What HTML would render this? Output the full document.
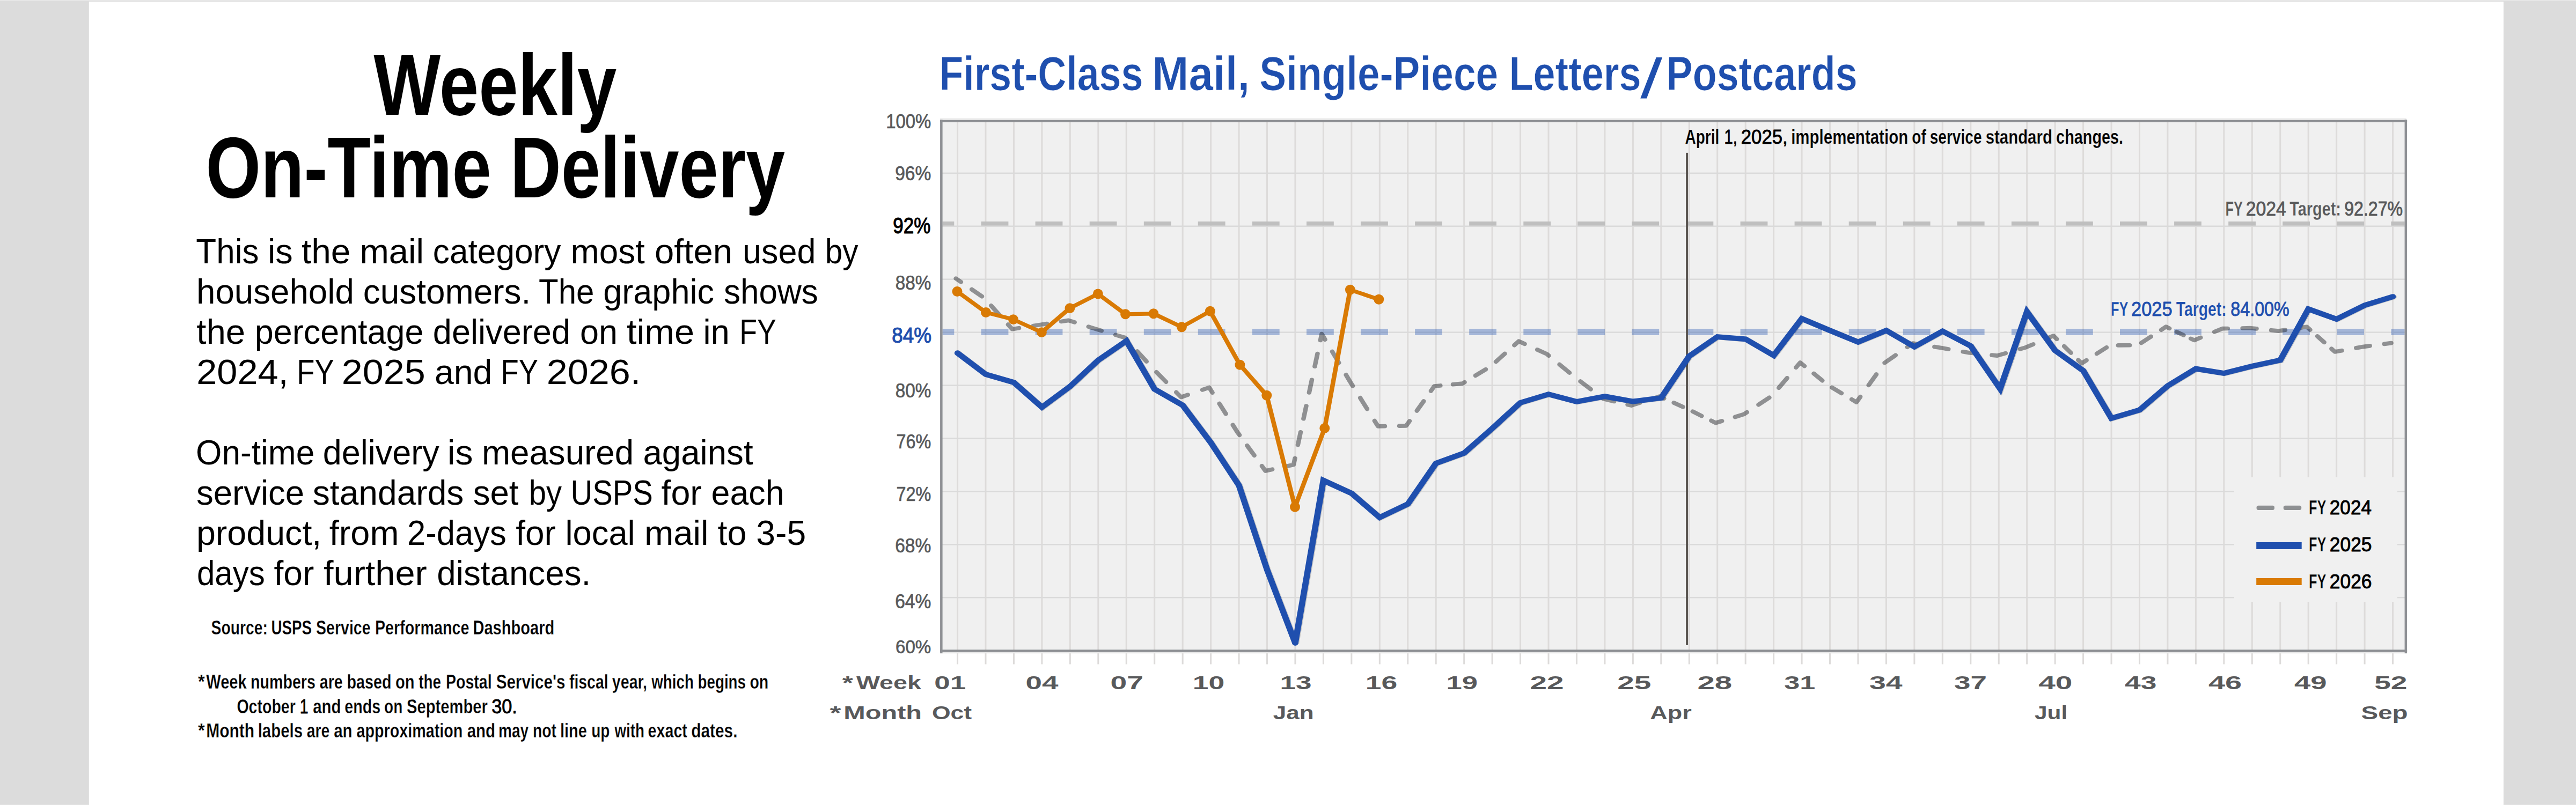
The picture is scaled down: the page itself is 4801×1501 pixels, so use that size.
<!DOCTYPE html>
<html lang="en"><head><meta charset="utf-8"><title>Weekly On-Time Delivery</title>
<style>
html,body{margin:0;padding:0;background:#fff;}
body{width:4801px;height:1501px;overflow:hidden;position:relative;}
svg{position:absolute;left:0;top:0;display:block;font-family:"Liberation Sans",Arial,sans-serif;}
text{white-space:pre;}
</style></head><body>
<svg width="4801" height="1501" viewBox="0 0 4801 1501">
<rect x="0" y="0" width="4801" height="1501" fill="#fff"/>
<rect x="0" y="0" width="165.8" height="1501" fill="#DCDCDC"/>
<rect x="4665.9" y="0" width="135.1" height="1501" fill="#DCDCDC"/>
<rect x="0" y="1500" width="165.8" height="1" fill="#E3E3E3"/><rect x="4665.9" y="1500" width="135.1" height="1" fill="#E3E3E3"/>
<rect x="0" y="0" width="4801" height="1" fill="#EEEEEE"/>
<rect x="0" y="1" width="4801" height="2" fill="#DCDCDC"/>
<g>
<rect x="1754.35" y="225.95" width="2729.5000000000005" height="987.6499999999999" fill="#F0F0F0"/>
<rect x="1783.05" y="225.95" width="3.0" height="1012.6" fill="#DDDBDA"/>
<rect x="1835.50" y="225.95" width="3.0" height="1012.6" fill="#DDDBDA"/>
<rect x="1887.95" y="225.95" width="3.0" height="1012.6" fill="#DDDBDA"/>
<rect x="1940.40" y="225.95" width="3.0" height="1012.6" fill="#DDDBDA"/>
<rect x="1992.85" y="225.95" width="3.0" height="1012.6" fill="#DDDBDA"/>
<rect x="2045.30" y="225.95" width="3.0" height="1012.6" fill="#DDDBDA"/>
<rect x="2097.76" y="225.95" width="3.0" height="1012.6" fill="#DDDBDA"/>
<rect x="2150.21" y="225.95" width="3.0" height="1012.6" fill="#DDDBDA"/>
<rect x="2202.66" y="225.95" width="3.0" height="1012.6" fill="#DDDBDA"/>
<rect x="2255.11" y="225.95" width="3.0" height="1012.6" fill="#DDDBDA"/>
<rect x="2307.56" y="225.95" width="3.0" height="1012.6" fill="#DDDBDA"/>
<rect x="2360.01" y="225.95" width="3.0" height="1012.6" fill="#DDDBDA"/>
<rect x="2412.46" y="225.95" width="3.0" height="1012.6" fill="#DDDBDA"/>
<rect x="2464.91" y="225.95" width="3.0" height="1012.6" fill="#DDDBDA"/>
<rect x="2517.36" y="225.95" width="3.0" height="1012.6" fill="#DDDBDA"/>
<rect x="2569.81" y="225.95" width="3.0" height="1012.6" fill="#DDDBDA"/>
<rect x="2622.27" y="225.95" width="3.0" height="1012.6" fill="#DDDBDA"/>
<rect x="2674.72" y="225.95" width="3.0" height="1012.6" fill="#DDDBDA"/>
<rect x="2727.17" y="225.95" width="3.0" height="1012.6" fill="#DDDBDA"/>
<rect x="2779.62" y="225.95" width="3.0" height="1012.6" fill="#DDDBDA"/>
<rect x="2832.07" y="225.95" width="3.0" height="1012.6" fill="#DDDBDA"/>
<rect x="2884.52" y="225.95" width="3.0" height="1012.6" fill="#DDDBDA"/>
<rect x="2936.97" y="225.95" width="3.0" height="1012.6" fill="#DDDBDA"/>
<rect x="2989.42" y="225.95" width="3.0" height="1012.6" fill="#DDDBDA"/>
<rect x="3041.87" y="225.95" width="3.0" height="1012.6" fill="#DDDBDA"/>
<rect x="3094.32" y="225.95" width="3.0" height="1012.6" fill="#DDDBDA"/>
<rect x="3146.78" y="225.95" width="3.0" height="1012.6" fill="#DDDBDA"/>
<rect x="3199.23" y="225.95" width="3.0" height="1012.6" fill="#DDDBDA"/>
<rect x="3251.68" y="225.95" width="3.0" height="1012.6" fill="#DDDBDA"/>
<rect x="3304.13" y="225.95" width="3.0" height="1012.6" fill="#DDDBDA"/>
<rect x="3356.58" y="225.95" width="3.0" height="1012.6" fill="#DDDBDA"/>
<rect x="3409.03" y="225.95" width="3.0" height="1012.6" fill="#DDDBDA"/>
<rect x="3461.48" y="225.95" width="3.0" height="1012.6" fill="#DDDBDA"/>
<rect x="3513.93" y="225.95" width="3.0" height="1012.6" fill="#DDDBDA"/>
<rect x="3566.38" y="225.95" width="3.0" height="1012.6" fill="#DDDBDA"/>
<rect x="3618.83" y="225.95" width="3.0" height="1012.6" fill="#DDDBDA"/>
<rect x="3671.29" y="225.95" width="3.0" height="1012.6" fill="#DDDBDA"/>
<rect x="3723.74" y="225.95" width="3.0" height="1012.6" fill="#DDDBDA"/>
<rect x="3776.19" y="225.95" width="3.0" height="1012.6" fill="#DDDBDA"/>
<rect x="3828.64" y="225.95" width="3.0" height="1012.6" fill="#DDDBDA"/>
<rect x="3881.09" y="225.95" width="3.0" height="1012.6" fill="#DDDBDA"/>
<rect x="3933.54" y="225.95" width="3.0" height="1012.6" fill="#DDDBDA"/>
<rect x="3985.99" y="225.95" width="3.0" height="1012.6" fill="#DDDBDA"/>
<rect x="4038.44" y="225.95" width="3.0" height="1012.6" fill="#DDDBDA"/>
<rect x="4090.89" y="225.95" width="3.0" height="1012.6" fill="#DDDBDA"/>
<rect x="4143.34" y="225.95" width="3.0" height="1012.6" fill="#DDDBDA"/>
<rect x="4195.80" y="225.95" width="3.0" height="1012.6" fill="#DDDBDA"/>
<rect x="4248.25" y="225.95" width="3.0" height="1012.6" fill="#DDDBDA"/>
<rect x="4300.70" y="225.95" width="3.0" height="1012.6" fill="#DDDBDA"/>
<rect x="4353.15" y="225.95" width="3.0" height="1012.6" fill="#DDDBDA"/>
<rect x="4405.60" y="225.95" width="3.0" height="1012.6" fill="#DDDBDA"/>
<rect x="4458.05" y="225.95" width="3.0" height="1012.6" fill="#DDDBDA"/>
<rect x="1754.35" y="1112.94" width="2729.5000000000005" height="2.5" fill="#DADADA"/>
<rect x="1754.35" y="1014.03" width="2729.5000000000005" height="2.5" fill="#DADADA"/>
<rect x="1754.35" y="915.11" width="2729.5000000000005" height="2.5" fill="#DADADA"/>
<rect x="1754.35" y="816.20" width="2729.5000000000005" height="2.5" fill="#DADADA"/>
<rect x="1754.35" y="717.29" width="2729.5000000000005" height="2.5" fill="#DADADA"/>
<rect x="1754.35" y="618.38" width="2729.5000000000005" height="2.5" fill="#DADADA"/>
<rect x="1754.35" y="519.47" width="2729.5000000000005" height="2.5" fill="#DADADA"/>
<rect x="1754.35" y="420.55" width="2729.5000000000005" height="2.5" fill="#DADADA"/>
<rect x="1754.35" y="321.64" width="2729.5000000000005" height="2.5" fill="#DADADA"/>
<rect x="4164" y="889.8" width="304" height="232.5" fill="#F0F0F0"/>
<rect x="1756.5" y="413.0" width="21.8" height="7.7" fill="#BFBFBF" fill-opacity="1"/>
<rect x="1828.6" y="413.0" width="50.8" height="7.7" fill="#BFBFBF" fill-opacity="1"/>
<rect x="1929.6" y="413.0" width="50.8" height="7.7" fill="#BFBFBF" fill-opacity="1"/>
<rect x="2030.7" y="413.0" width="50.8" height="7.7" fill="#BFBFBF" fill-opacity="1"/>
<rect x="2131.8" y="413.0" width="50.8" height="7.7" fill="#BFBFBF" fill-opacity="1"/>
<rect x="2232.8" y="413.0" width="50.8" height="7.7" fill="#BFBFBF" fill-opacity="1"/>
<rect x="2333.9" y="413.0" width="50.8" height="7.7" fill="#BFBFBF" fill-opacity="1"/>
<rect x="2435.0" y="413.0" width="50.8" height="7.7" fill="#BFBFBF" fill-opacity="1"/>
<rect x="2536.1" y="413.0" width="50.8" height="7.7" fill="#BFBFBF" fill-opacity="1"/>
<rect x="2637.1" y="413.0" width="50.8" height="7.7" fill="#BFBFBF" fill-opacity="1"/>
<rect x="2738.2" y="413.0" width="50.8" height="7.7" fill="#BFBFBF" fill-opacity="1"/>
<rect x="2839.3" y="413.0" width="50.8" height="7.7" fill="#BFBFBF" fill-opacity="1"/>
<rect x="2940.3" y="413.0" width="50.8" height="7.7" fill="#BFBFBF" fill-opacity="1"/>
<rect x="3041.4" y="413.0" width="50.8" height="7.7" fill="#BFBFBF" fill-opacity="1"/>
<rect x="3142.5" y="413.0" width="50.8" height="7.7" fill="#BFBFBF" fill-opacity="1"/>
<rect x="3243.6" y="413.0" width="50.8" height="7.7" fill="#BFBFBF" fill-opacity="1"/>
<rect x="3344.6" y="413.0" width="50.8" height="7.7" fill="#BFBFBF" fill-opacity="1"/>
<rect x="3445.7" y="413.0" width="50.8" height="7.7" fill="#BFBFBF" fill-opacity="1"/>
<rect x="3546.8" y="413.0" width="50.8" height="7.7" fill="#BFBFBF" fill-opacity="1"/>
<rect x="3647.8" y="413.0" width="50.8" height="7.7" fill="#BFBFBF" fill-opacity="1"/>
<rect x="3748.9" y="413.0" width="50.8" height="7.7" fill="#BFBFBF" fill-opacity="1"/>
<rect x="3850.0" y="413.0" width="50.8" height="7.7" fill="#BFBFBF" fill-opacity="1"/>
<rect x="3951.0" y="413.0" width="50.8" height="7.7" fill="#BFBFBF" fill-opacity="1"/>
<rect x="4052.1" y="413.0" width="50.8" height="7.7" fill="#BFBFBF" fill-opacity="1"/>
<rect x="4153.2" y="413.0" width="50.8" height="7.7" fill="#BFBFBF" fill-opacity="1"/>
<rect x="4254.2" y="413.0" width="50.8" height="7.7" fill="#BFBFBF" fill-opacity="1"/>
<rect x="4355.3" y="413.0" width="50.8" height="7.7" fill="#BFBFBF" fill-opacity="1"/>
<rect x="4456.4" y="413.0" width="25.3" height="7.7" fill="#BFBFBF" fill-opacity="1"/>
<rect x="1756.5" y="613.0" width="21.8" height="12.0" fill="#1F4FAE" fill-opacity="0.36"/>
<rect x="1828.6" y="613.0" width="50.8" height="12.0" fill="#1F4FAE" fill-opacity="0.36"/>
<rect x="1929.6" y="613.0" width="50.8" height="12.0" fill="#1F4FAE" fill-opacity="0.36"/>
<rect x="2030.7" y="613.0" width="50.8" height="12.0" fill="#1F4FAE" fill-opacity="0.36"/>
<rect x="2131.8" y="613.0" width="50.8" height="12.0" fill="#1F4FAE" fill-opacity="0.36"/>
<rect x="2232.8" y="613.0" width="50.8" height="12.0" fill="#1F4FAE" fill-opacity="0.36"/>
<rect x="2333.9" y="613.0" width="50.8" height="12.0" fill="#1F4FAE" fill-opacity="0.36"/>
<rect x="2435.0" y="613.0" width="50.8" height="12.0" fill="#1F4FAE" fill-opacity="0.36"/>
<rect x="2536.1" y="613.0" width="50.8" height="12.0" fill="#1F4FAE" fill-opacity="0.36"/>
<rect x="2637.1" y="613.0" width="50.8" height="12.0" fill="#1F4FAE" fill-opacity="0.36"/>
<rect x="2738.2" y="613.0" width="50.8" height="12.0" fill="#1F4FAE" fill-opacity="0.36"/>
<rect x="2839.3" y="613.0" width="50.8" height="12.0" fill="#1F4FAE" fill-opacity="0.36"/>
<rect x="2940.3" y="613.0" width="50.8" height="12.0" fill="#1F4FAE" fill-opacity="0.36"/>
<rect x="3041.4" y="613.0" width="50.8" height="12.0" fill="#1F4FAE" fill-opacity="0.36"/>
<rect x="3142.5" y="613.0" width="50.8" height="12.0" fill="#1F4FAE" fill-opacity="0.36"/>
<rect x="3243.6" y="613.0" width="50.8" height="12.0" fill="#1F4FAE" fill-opacity="0.36"/>
<rect x="3344.6" y="613.0" width="50.8" height="12.0" fill="#1F4FAE" fill-opacity="0.36"/>
<rect x="3445.7" y="613.0" width="50.8" height="12.0" fill="#1F4FAE" fill-opacity="0.36"/>
<rect x="3546.8" y="613.0" width="50.8" height="12.0" fill="#1F4FAE" fill-opacity="0.36"/>
<rect x="3647.8" y="613.0" width="50.8" height="12.0" fill="#1F4FAE" fill-opacity="0.36"/>
<rect x="3748.9" y="613.0" width="50.8" height="12.0" fill="#1F4FAE" fill-opacity="0.36"/>
<rect x="3850.0" y="613.0" width="50.8" height="12.0" fill="#1F4FAE" fill-opacity="0.36"/>
<rect x="3951.0" y="613.0" width="50.8" height="12.0" fill="#1F4FAE" fill-opacity="0.36"/>
<rect x="4052.1" y="613.0" width="50.8" height="12.0" fill="#1F4FAE" fill-opacity="0.36"/>
<rect x="4153.2" y="613.0" width="50.8" height="12.0" fill="#1F4FAE" fill-opacity="0.36"/>
<rect x="4254.2" y="613.0" width="50.8" height="12.0" fill="#1F4FAE" fill-opacity="0.36"/>
<rect x="4355.3" y="613.0" width="50.8" height="12.0" fill="#1F4FAE" fill-opacity="0.36"/>
<rect x="4456.4" y="613.0" width="25.3" height="12.0" fill="#1F4FAE" fill-opacity="0.36"/>
<rect x="3142.0" y="284.9" width="4.1" height="918" fill="#5B5652"/>
<g transform="scale(1.1 1)" fill="none">
<path d="M1619.59 519.23L1628.18 525.73M1707.99 605.17L1714.96 613.69L1726.41 611.73M1992.93 731.45L2001.05 740.55L2012.59 736.18M2037.20 726.86L2048.74 722.50L2054.25 732.10M2138.05 868.84L2144.10 878.04L2155.64 875.22M2180.24 869.23L2191.78 866.41L2194.09 854.61M2237.16 634.40L2239.47 622.60L2245.12 633.10M2328.94 784.60L2334.83 794.95L2346.37 794.71M2370.98 794.20L2382.51 793.96L2388.28 785.01M2424.43 728.97L2430.20 720.02L2440.30 718.98M2565.69 643.64L2573.25 636.20L2583.27 641.24M2801.17 742.82L2811.66 739.06L2819.42 742.89M2899.40 784.37L2907.02 788.52L2917.48 785.00M3043.01 685.20L3050.07 676.01L3057.40 682.54M3137.34 744.61L3145.44 749.94L3152.00 739.83M3231.52 647.23L3240.80 640.15L3252.56 642.22M3468.24 631.12L3479.22 626.06L3484.99 632.28M3521.13 671.27L3526.90 677.49L3535.13 671.73M3661.79 615.12L3669.95 609.24L3675.72 612.29M3711.86 631.41L3717.63 634.46L3728.55 629.48M3896.67 611.18L3908.36 609.24L3914.13 614.90M3950.27 650.32L3956.04 655.98L3967.54 653.71M4039.83 641.34L4051.41 639.66M1646.48 539.60L1663.66 552.60M1679.20 569.93L1693.13 586.98M1750.82 607.56L1762.64 605.53L1773.71 603.64M1798.13 599.46L1810.32 597.37L1820.65 600.96M1844.21 609.15L1858.00 613.94L1866.35 616.67M1890.03 624.40L1905.69 629.52L1910.29 635.08M1926.92 655.18L1942.52 674.03M1959.39 693.88L1975.62 712.06M2066.00 752.57L2077.02 771.78M2088.77 792.25L2096.42 805.58L2100.12 811.21M2113.03 830.83L2125.14 849.22M2199.01 829.45L2203.63 805.85M2208.55 780.69L2213.16 757.09M2218.09 731.92L2222.70 708.32M2227.62 683.16L2232.24 659.56M2257.19 655.49L2268.50 676.50M2280.56 698.89L2287.15 711.12L2292.07 719.77M2304.62 741.84L2316.39 762.53M2400.59 765.94L2412.13 748.05M2461.84 716.74L2477.88 715.08L2481.45 712.69M2499.94 700.32L2517.28 688.72M2534.46 674.42L2549.57 659.52M2604.66 652.00L2620.93 660.18L2624.14 663.10M2642.28 679.56L2659.30 695.00M2677.70 711.09L2695.23 725.82M2713.92 741.52L2716.29 743.52L2734.83 748.42M2757.70 754.47L2763.98 756.13L2778.81 750.82M2835.98 751.04L2851.50 758.69M2867.90 767.22L2883.15 775.52M2939.77 777.48L2954.71 772.45L2959.94 768.68M2979.44 754.62L2997.73 741.43M3013.85 723.16L3027.96 704.79M3073.03 696.48L3087.68 709.56M3103.89 722.58L3120.08 733.24M3166.00 718.27L3179.14 698.04M3193.14 676.48L3211.72 662.33M3277.62 646.64L3288.49 648.56L3301.10 650.98M3326.11 655.78L3336.17 657.71L3349.69 659.25M3374.94 662.13L3383.85 663.15L3398.12 658.64M3422.51 650.92L3431.53 648.07L3444.83 641.93M3497.29 645.55L3508.83 658.00M3552.67 659.45L3569.13 647.93M3588.91 643.96L3608.42 643.76M3628.08 639.42L3644.39 627.66M3688.02 618.80L3699.56 624.91M3751.85 618.85L3765.31 612.70L3774.38 612.52M3799.59 611.99L3813.00 611.72L3823.19 612.88M3848.27 615.74L3860.68 617.16L3871.73 615.32M3926.43 626.96L3937.97 638.27M3992.06 648.88L4003.73 646.58L4015.14 644.92" stroke="#101317" stroke-opacity="0.43" stroke-width="7.7" stroke-linecap="round" stroke-linejoin="round"/>
</g>
<g transform="scale(1.17 1)" fill="none">
<polyline points="1526.54,658.7 1571.37,698.5 1616.20,713.6 1661.03,759.8 1705.86,721.0 1750.69,672.1 1795.52,636.2 1840.35,726.0 1885.18,756.1 1930.01,825.9 1974.84,905.5 2019.67,1062.8 2064.50,1199.5 2109.33,896.3 2154.16,920.3 2198.99,965.3 2243.82,940.4 2288.65,864.4 2333.48,845.4 2378.31,799.4 2423.14,751.4 2467.97,735.6 2512.80,749.5 2557.63,739.6 2602.46,749.0 2647.29,742.5 2692.12,664.6 2736.95,628.5 2781.78,632.7 2826.61,663.2 2871.44,594.7 2916.27,616.7 2961.10,638.2 3005.93,616.7 3050.75,647.1 3095.58,618.1 3140.41,645.6 3187.38,725.5 3230.07,581.8 3274.90,654.0 3319.73,691.6 3364.56,780.4 3409.39,765.0 3454.22,720.0 3499.05,688.1 3543.88,696.5 3588.71,683.2 3633.54,672.1 3678.37,576.6 3723.20,595.6 3768.03,569.7 3812.86,553.6" stroke="#000" stroke-opacity="0.17" stroke-width="9.9" stroke-linecap="round" stroke-linejoin="miter" stroke-miterlimit="3"/>
<polyline points="1525.26,658.2 1570.09,698.0 1614.92,713.1 1659.75,759.3 1704.58,720.5 1749.41,671.6 1794.24,635.7 1839.07,725.5 1883.90,755.6 1928.73,825.4 1973.56,905.0 2018.39,1062.3 2063.22,1199.0 2108.05,895.8 2152.87,919.8 2197.70,964.8 2242.53,939.9 2287.36,863.9 2332.19,844.9 2377.02,798.9 2421.85,750.9 2466.68,735.1 2511.51,749.0 2556.34,739.1 2601.17,748.5 2646.00,742.0 2690.83,664.1 2735.66,628.0 2780.49,632.2 2825.32,662.7 2870.15,594.2 2914.98,616.2 2959.81,637.7 3004.64,616.2 3049.47,646.6 3094.30,617.6 3139.13,645.1 3186.10,725.0 3228.79,581.3 3273.62,653.5 3318.45,691.1 3363.28,779.9 3408.11,764.5 3452.94,719.5 3497.77,687.6 3542.60,696.0 3587.43,682.7 3632.26,671.6 3677.09,576.1 3721.92,595.1 3766.75,569.2 3811.58,553.1" stroke="#1F4FAE" stroke-width="9.9" stroke-linecap="round" stroke-linejoin="miter" stroke-miterlimit="3"/>
<circle cx="2063.22" cy="1199.0" r="4.95" fill="#1F4FAE"/>
<polyline points="1524.83,543.5 1570.51,582.5 1614.06,595.6 1659.32,619.6 1704.15,574.6 1748.98,547.9 1792.70,585.8 1837.53,584.8 1882.36,609.7 1927.70,580.3 1975.09,680.2 2017.79,737.3 2062.79,945.3 2110.10,798.4 2150.74,540.3 2196.42,558.3" stroke="#D97A04" stroke-width="7.3" stroke-linecap="round" stroke-linejoin="round"/>
</g>
<circle cx="1784.0" cy="543.5" r="9.45" fill="#D97A04"/>
<circle cx="1837.5" cy="582.5" r="9.45" fill="#D97A04"/>
<circle cx="1888.5" cy="595.6" r="9.45" fill="#D97A04"/>
<circle cx="1941.4" cy="619.6" r="9.45" fill="#D97A04"/>
<circle cx="1993.9" cy="574.6" r="9.45" fill="#D97A04"/>
<circle cx="2046.3" cy="547.9" r="9.45" fill="#D97A04"/>
<circle cx="2097.5" cy="585.8" r="9.45" fill="#D97A04"/>
<circle cx="2149.9" cy="584.8" r="9.45" fill="#D97A04"/>
<circle cx="2202.4" cy="609.7" r="9.45" fill="#D97A04"/>
<circle cx="2255.4" cy="580.3" r="9.45" fill="#D97A04"/>
<circle cx="2310.9" cy="680.2" r="9.45" fill="#D97A04"/>
<circle cx="2360.8" cy="737.3" r="9.45" fill="#D97A04"/>
<circle cx="2413.5" cy="945.3" r="9.45" fill="#D97A04"/>
<circle cx="2468.8" cy="798.4" r="9.45" fill="#D97A04"/>
<circle cx="2516.4" cy="540.3" r="9.45" fill="#D97A04"/>
<circle cx="2569.8" cy="558.3" r="9.45" fill="#D97A04"/>
<rect x="1752.1" y="220.4" width="2732.5" height="3.5" fill="#EBEBEB"/>
<rect x="1756.6" y="1215.7" width="2725" height="2.6" fill="#E6E6E6"/>
<rect x="1752.1" y="223.85" width="2734" height="4.15" fill="#8E9094"/>
<rect x="1752.1" y="1211.4" width="2734" height="4.4" fill="#8E9094"/>
<rect x="1752.1" y="223.3" width="4.5" height="994.9" fill="#8E9094"/>
<rect x="4481.6" y="223.1" width="4.5" height="995.1" fill="#8E9094"/>
<rect x="4205.6" y="942.8" width="33.4" height="8.2" rx="3.4" fill="#8E9092"/><rect x="4255.8" y="942.8" width="33.4" height="8.2" rx="3.4" fill="#8E9092"/>
<rect x="4205.2" y="1011" width="84.5" height="13" fill="#1F4FAE"/>
<rect x="4205.2" y="1078" width="84.5" height="13" fill="#D97A04"/>
</g>
<g>
<text transform="translate(696.50 214.00) scale(0.8221 1.0000)" font-size="160.61" font-weight="700" fill="#000">Weekly</text>
<text transform="translate(383.38 367.50) scale(0.8210 1.0000)" font-size="160.61" font-weight="700" fill="#000">On-Time</text>
<text transform="translate(950.77 367.50) scale(0.8198 1.0000)" font-size="160.61" font-weight="700" fill="#000">Delivery</text>
<text transform="translate(365.33 491.00) scale(0.9627 1.0000)" font-size="64.39" fill="#000">This</text>
<text transform="translate(498.94 491.00) scale(1.0083 1.0000)" font-size="64.39" fill="#000">is</text>
<text transform="translate(562.00 491.00) scale(1.0219 1.0000)" font-size="64.39" fill="#000">the</text>
<text transform="translate(670.42 491.00) scale(1.0138 1.0000)" font-size="64.39" fill="#000">mail</text>
<text transform="translate(806.86 491.00) scale(0.9663 1.0000)" font-size="64.39" fill="#000">category</text>
<text transform="translate(1063.51 491.00) scale(0.9910 1.0000)" font-size="64.39" fill="#000">most</text>
<text transform="translate(1219.96 491.00) scale(1.0125 1.0000)" font-size="64.39" fill="#000">often</text>
<text transform="translate(1384.07 491.00) scale(0.9774 1.0000)" font-size="64.39" fill="#000">used</text>
<text transform="translate(1537.64 491.00) scale(0.9096 1.0000)" font-size="64.39" fill="#000">by</text>
<text transform="translate(366.02 565.80) scale(0.9888 1.0000)" font-size="64.39" fill="#000">household</text>
<text transform="translate(676.80 565.80) scale(0.9924 1.0000)" font-size="64.39" fill="#000">customers.</text>
<text transform="translate(1004.06 565.80) scale(0.9316 1.0000)" font-size="64.39" fill="#000">The</text>
<text transform="translate(1124.33 565.80) scale(0.9785 1.0000)" font-size="64.39" fill="#000">graphic</text>
<text transform="translate(1349.03 565.80) scale(0.9638 1.0000)" font-size="64.39" fill="#000">shows</text>
<text transform="translate(366.30 640.60) scale(1.0150 1.0000)" font-size="64.39" fill="#000">the</text>
<text transform="translate(474.87 640.60) scale(0.9767 1.0000)" font-size="64.39" fill="#000">percentage</text>
<text transform="translate(806.83 640.60) scale(0.9806 1.0000)" font-size="64.39" fill="#000">delivered</text>
<text transform="translate(1081.03 640.60) scale(0.9774 1.0000)" font-size="64.39" fill="#000">on</text>
<text transform="translate(1168.00 640.60) scale(1.0359 1.0000)" font-size="64.39" fill="#000">time</text>
<text transform="translate(1310.54 640.60) scale(0.9841 1.0000)" font-size="64.39" fill="#000">in</text>
<text transform="translate(1378.31 640.60) scale(0.8334 1.0000)" font-size="64.39" fill="#000">FY</text>
<text transform="translate(366.29 715.90) scale(1.0633 1.0000)" font-size="64.39" fill="#000">2024,</text>
<text transform="translate(553.26 715.90) scale(0.8425 1.0000)" font-size="64.39" fill="#000">FY</text>
<text transform="translate(636.71 715.90) scale(1.0900 1.0000)" font-size="64.39" fill="#000">2025</text>
<text transform="translate(809.99 715.90) scale(1.0000 1.0000)" font-size="64.39" fill="#000">and</text>
<text transform="translate(933.55 715.90) scale(0.8451 1.0000)" font-size="64.39" fill="#000">FY</text>
<text transform="translate(1018.71 715.90) scale(1.0900 1.0000)" font-size="64.39" fill="#000">2026.</text>
<text transform="translate(365.08 865.70) scale(0.9662 1.0000)" font-size="64.39" fill="#000">On-time</text>
<text transform="translate(601.83 865.70) scale(0.9779 1.0000)" font-size="64.39" fill="#000">delivery</text>
<text transform="translate(833.87 865.70) scale(1.0256 1.0000)" font-size="64.39" fill="#000">is</text>
<text transform="translate(898.02 865.70) scale(0.9886 1.0000)" font-size="64.39" fill="#000">measured</text>
<text transform="translate(1198.51 865.70) scale(0.9877 1.0000)" font-size="64.39" fill="#000">against</text>
<text transform="translate(366.01 940.90) scale(0.9858 1.0000)" font-size="64.39" fill="#000">service</text>
<text transform="translate(582.80 940.90) scale(0.9962 1.0000)" font-size="64.39" fill="#000">standards</text>
<text transform="translate(881.71 940.90) scale(0.9870 1.0000)" font-size="64.39" fill="#000">set</text>
<text transform="translate(985.78 940.90) scale(0.9003 1.0000)" font-size="64.39" fill="#000">by</text>
<text transform="translate(1063.48 940.90) scale(0.8748 1.0000)" font-size="64.39" fill="#000">USPS</text>
<text transform="translate(1232.50 940.90) scale(1.0023 1.0000)" font-size="64.39" fill="#000">for</text>
<text transform="translate(1325.54 940.90) scale(0.9739 1.0000)" font-size="64.39" fill="#000">each</text>
<text transform="translate(365.96 1015.70) scale(1.0030 1.0000)" font-size="64.39" fill="#000">product,</text>
<text transform="translate(613.80 1015.70) scale(1.0060 1.0000)" font-size="64.39" fill="#000">from</text>
<text transform="translate(759.12 1015.70) scale(0.9557 1.0000)" font-size="64.39" fill="#000">2-days</text>
<text transform="translate(961.30 1015.70) scale(0.9916 1.0000)" font-size="64.39" fill="#000">for</text>
<text transform="translate(1053.55 1015.70) scale(0.9826 1.0000)" font-size="64.39" fill="#000">local</text>
<text transform="translate(1200.92 1015.70) scale(1.0138 1.0000)" font-size="64.39" fill="#000">mail</text>
<text transform="translate(1337.50 1015.70) scale(1.0041 1.0000)" font-size="64.39" fill="#000">to</text>
<text transform="translate(1409.29 1015.70) scale(0.9973 1.0000)" font-size="64.39" fill="#000">3-5</text>
<text transform="translate(366.92 1090.90) scale(0.9334 1.0000)" font-size="64.39" fill="#000">days</text>
<text transform="translate(510.50 1090.90) scale(0.9956 1.0000)" font-size="64.39" fill="#000">for</text>
<text transform="translate(603.00 1090.90) scale(1.0362 1.0000)" font-size="64.39" fill="#000">further</text>
<text transform="translate(814.31 1090.90) scale(0.9898 1.0000)" font-size="64.39" fill="#000">distances.</text>
<text transform="translate(393.56 1182.50) scale(0.7783 1.0000)" font-size="36.34" font-weight="700" fill="#000" stroke="#fff" stroke-width="0.3" stroke-linejoin="round">Source:</text>
<text transform="translate(505.40 1182.50) scale(0.7633 1.0000)" font-size="36.34" font-weight="700" fill="#000" stroke="#fff" stroke-width="0.3" stroke-linejoin="round">USPS</text>
<text transform="translate(589.05 1182.50) scale(0.7854 1.0000)" font-size="36.34" font-weight="700" fill="#000" stroke="#fff" stroke-width="0.3" stroke-linejoin="round">Service</text>
<text transform="translate(698.90 1182.50) scale(0.7909 1.0000)" font-size="36.34" font-weight="700" fill="#000" stroke="#fff" stroke-width="0.3" stroke-linejoin="round">Performance</text>
<text transform="translate(881.48 1182.50) scale(0.7997 1.0000)" font-size="36.34" font-weight="700" fill="#000" stroke="#fff" stroke-width="0.3" stroke-linejoin="round">Dashboard</text>
<text transform="translate(369.00 1284.00) scale(0.9018 1.0000)" font-size="36.34" font-weight="700" fill="#000" stroke="#fff" stroke-width="0.3" stroke-linejoin="round">*</text>
<text transform="translate(384.30 1284.00) scale(0.8000 1.0000)" font-size="36.34" font-weight="700" fill="#000" stroke="#fff" stroke-width="0.3" stroke-linejoin="round">Week</text>
<text transform="translate(467.11 1284.00) scale(0.7868 1.0000)" font-size="36.34" font-weight="700" fill="#000" stroke="#fff" stroke-width="0.3" stroke-linejoin="round">numbers</text>
<text transform="translate(595.75 1284.00) scale(0.7874 1.0000)" font-size="36.34" font-weight="700" fill="#000" stroke="#fff" stroke-width="0.3" stroke-linejoin="round">are</text>
<text transform="translate(646.40 1284.00) scale(0.7916 1.0000)" font-size="36.34" font-weight="700" fill="#000" stroke="#fff" stroke-width="0.3" stroke-linejoin="round">based</text>
<text transform="translate(736.99 1284.00) scale(0.8024 1.0000)" font-size="36.34" font-weight="700" fill="#000" stroke="#fff" stroke-width="0.3" stroke-linejoin="round">on</text>
<text transform="translate(780.20 1284.00) scale(0.7649 1.0000)" font-size="36.34" font-weight="700" fill="#000" stroke="#fff" stroke-width="0.3" stroke-linejoin="round">the</text>
<text transform="translate(830.91 1284.00) scale(0.7866 1.0000)" font-size="36.34" font-weight="700" fill="#000" stroke="#fff" stroke-width="0.3" stroke-linejoin="round">Postal</text>
<text transform="translate(924.64 1284.00) scale(0.8154 1.0000)" font-size="36.34" font-weight="700" fill="#000" stroke="#fff" stroke-width="0.3" stroke-linejoin="round">Service's</text>
<text transform="translate(1060.96 1284.00) scale(0.7816 1.0000)" font-size="36.34" font-weight="700" fill="#000" stroke="#fff" stroke-width="0.3" stroke-linejoin="round">fiscal</text>
<text transform="translate(1140.80 1284.00) scale(0.7880 1.0000)" font-size="36.34" font-weight="700" fill="#000" stroke="#fff" stroke-width="0.3" stroke-linejoin="round">year,</text>
<text transform="translate(1214.33 1284.00) scale(0.7625 1.0000)" font-size="36.34" font-weight="700" fill="#000" stroke="#fff" stroke-width="0.3" stroke-linejoin="round">which</text>
<text transform="translate(1300.57 1284.00) scale(0.7639 1.0000)" font-size="36.34" font-weight="700" fill="#000" stroke="#fff" stroke-width="0.3" stroke-linejoin="round">begins</text>
<text transform="translate(1397.41 1284.00) scale(0.7855 1.0000)" font-size="36.34" font-weight="700" fill="#000" stroke="#fff" stroke-width="0.3" stroke-linejoin="round">on</text>
<text transform="translate(441.41 1329.80) scale(0.7852 1.0000)" font-size="36.34" font-weight="700" fill="#000" stroke="#fff" stroke-width="0.3" stroke-linejoin="round">October</text>
<text transform="translate(558.87 1329.80) scale(0.7835 1.0000)" font-size="36.34" fill="#000" stroke="#000" stroke-width="0.9" stroke-linejoin="round">1</text>
<text transform="translate(583.24 1329.80) scale(0.8102 1.0000)" font-size="36.34" font-weight="700" fill="#000" stroke="#fff" stroke-width="0.3" stroke-linejoin="round">and</text>
<text transform="translate(642.30 1329.80) scale(0.7883 1.0000)" font-size="36.34" font-weight="700" fill="#000" stroke="#fff" stroke-width="0.3" stroke-linejoin="round">ends</text>
<text transform="translate(716.12 1329.80) scale(0.7711 1.0000)" font-size="36.34" font-weight="700" fill="#000" stroke="#fff" stroke-width="0.3" stroke-linejoin="round">on</text>
<text transform="translate(758.04 1329.80) scale(0.8039 1.0000)" font-size="36.34" font-weight="700" fill="#000" stroke="#fff" stroke-width="0.3" stroke-linejoin="round">September</text>
<text transform="translate(916.18 1329.80) scale(0.9437 1.0000)" font-size="36.34" fill="#000" stroke="#000" stroke-width="0.9" stroke-linejoin="round">30.</text>
<text transform="translate(369.00 1374.80) scale(0.9018 1.0000)" font-size="36.34" font-weight="700" fill="#000" stroke="#fff" stroke-width="0.3" stroke-linejoin="round">*</text>
<text transform="translate(384.23 1374.80) scale(0.8253 1.0000)" font-size="36.34" font-weight="700" fill="#000" stroke="#fff" stroke-width="0.3" stroke-linejoin="round">Month</text>
<text transform="translate(480.66 1374.80) scale(0.8099 1.0000)" font-size="36.34" font-weight="700" fill="#000" stroke="#fff" stroke-width="0.3" stroke-linejoin="round">labels</text>
<text transform="translate(571.66 1374.80) scale(0.7836 1.0000)" font-size="36.34" font-weight="700" fill="#000" stroke="#fff" stroke-width="0.3" stroke-linejoin="round">are</text>
<text transform="translate(622.14 1374.80) scale(0.8134 1.0000)" font-size="36.34" font-weight="700" fill="#000" stroke="#fff" stroke-width="0.3" stroke-linejoin="round">an</text>
<text transform="translate(664.45 1374.80) scale(0.7902 1.0000)" font-size="36.34" font-weight="700" fill="#000" stroke="#fff" stroke-width="0.3" stroke-linejoin="round">approximation</text>
<text transform="translate(870.64 1374.80) scale(0.8102 1.0000)" font-size="36.34" font-weight="700" fill="#000" stroke="#fff" stroke-width="0.3" stroke-linejoin="round">and</text>
<text transform="translate(929.05 1374.80) scale(0.7724 1.0000)" font-size="36.34" font-weight="700" fill="#000" stroke="#fff" stroke-width="0.3" stroke-linejoin="round">may</text>
<text transform="translate(992.93 1374.80) scale(0.7808 1.0000)" font-size="36.34" font-weight="700" fill="#000" stroke="#fff" stroke-width="0.3" stroke-linejoin="round">not</text>
<text transform="translate(1043.99 1374.80) scale(0.7977 1.0000)" font-size="36.34" font-weight="700" fill="#000" stroke="#fff" stroke-width="0.3" stroke-linejoin="round">line</text>
<text transform="translate(1102.19 1374.80) scale(0.7711 1.0000)" font-size="36.34" font-weight="700" fill="#000" stroke="#fff" stroke-width="0.3" stroke-linejoin="round">up</text>
<text transform="translate(1145.43 1374.80) scale(0.7640 1.0000)" font-size="36.34" font-weight="700" fill="#000" stroke="#fff" stroke-width="0.3" stroke-linejoin="round">with</text>
<text transform="translate(1207.60 1374.80) scale(0.7891 1.0000)" font-size="36.34" font-weight="700" fill="#000" stroke="#fff" stroke-width="0.3" stroke-linejoin="round">exact</text>
<text transform="translate(1288.27 1374.80) scale(0.8207 1.0000)" font-size="36.34" font-weight="700" fill="#000" stroke="#fff" stroke-width="0.3" stroke-linejoin="round">dates.</text>
<text transform="translate(1750.41 167.70) scale(0.8196 1.0000)" font-size="89.68" font-weight="700" fill="#1F4FAE" stroke="#fff" stroke-width="0.7" stroke-linejoin="round">First-Class</text>
<text transform="translate(2147.29 167.70) scale(0.9123 1.0000)" font-size="89.68" font-weight="700" fill="#1F4FAE" stroke="#fff" stroke-width="0.7" stroke-linejoin="round">Mail,</text>
<text transform="translate(2347.23 167.70) scale(0.8343 1.0000)" font-size="89.68" font-weight="700" fill="#1F4FAE" stroke="#fff" stroke-width="0.7" stroke-linejoin="round">Single-Piece</text>
<text transform="translate(2812.38 167.70) scale(0.8237 1.0000)" font-size="89.68" font-weight="700" fill="#1F4FAE" stroke="#fff" stroke-width="0.7" stroke-linejoin="round">Letters</text>
<text transform="translate(3105.60 167.70) scale(0.8214 1.0000)" font-size="89.68" font-weight="700" fill="#1F4FAE" stroke="#fff" stroke-width="0.7" stroke-linejoin="round">Postcards</text>
<text transform="translate(3057.20 182.38) scale(1.6414 1.1597)" font-size="89.68" fill="#1F4FAE">/</text>
<text transform="translate(3140.46 267.80) scale(0.7707 1.0000)" font-size="36.34" font-weight="700" fill="#000" stroke="#F0F0F0" stroke-width="0.25" stroke-linejoin="round">April</text>
<text transform="translate(3213.43 267.80) scale(0.8018 1.0000)" font-size="36.34" fill="#000" stroke="#000" stroke-width="0.9" stroke-linejoin="round">1,</text>
<text transform="translate(3244.82 267.80) scale(0.9548 1.0000)" font-size="36.34" fill="#000" stroke="#000" stroke-width="0.9" stroke-linejoin="round">2025,</text>
<text transform="translate(3338.16 267.80) scale(0.8121 1.0000)" font-size="36.34" font-weight="700" fill="#000" stroke="#F0F0F0" stroke-width="0.25" stroke-linejoin="round">implementation</text>
<text transform="translate(3563.32 267.80) scale(0.7719 1.0000)" font-size="36.34" font-weight="700" fill="#000" stroke="#F0F0F0" stroke-width="0.25" stroke-linejoin="round">of</text>
<text transform="translate(3596.72 267.80) scale(0.7725 1.0000)" font-size="36.34" font-weight="700" fill="#000" stroke="#F0F0F0" stroke-width="0.25" stroke-linejoin="round">service</text>
<text transform="translate(3700.68 267.80) scale(0.8093 1.0000)" font-size="36.34" font-weight="700" fill="#000" stroke="#F0F0F0" stroke-width="0.25" stroke-linejoin="round">standard</text>
<text transform="translate(3832.10 267.80) scale(0.7936 1.0000)" font-size="36.34" font-weight="700" fill="#000" stroke="#F0F0F0" stroke-width="0.25" stroke-linejoin="round">changes.</text>
<text transform="translate(4147.41 402.20) scale(0.6748 1.0000)" font-size="37.65" font-weight="700" fill="#58595B" stroke="#F0F0F0" stroke-width="0.25" stroke-linejoin="round">FY</text>
<text transform="translate(4185.66 402.20) scale(0.8983 1.0000)" font-size="37.65" fill="#58595B" stroke="#58595B" stroke-width="0.9" stroke-linejoin="round">2024</text>
<text transform="translate(4267.20 402.20) scale(0.7677 1.0000)" font-size="37.65" font-weight="700" fill="#58595B" stroke="#F0F0F0" stroke-width="0.25" stroke-linejoin="round">Target:</text>
<text transform="translate(4369.14 402.20) scale(0.8542 1.0000)" font-size="37.65" fill="#58595B" stroke="#58595B" stroke-width="0.9" stroke-linejoin="round">92.27%</text>
<text transform="translate(3933.90 588.90) scale(0.6872 1.0000)" font-size="37.21" font-weight="700" fill="#1F4FAE" stroke="#F0F0F0" stroke-width="0.25" stroke-linejoin="round">FY</text>
<text transform="translate(3972.04 588.90) scale(0.9242 1.0000)" font-size="37.21" fill="#1F4FAE" stroke="#1F4FAE" stroke-width="0.9" stroke-linejoin="round">2025</text>
<text transform="translate(4055.80 588.90) scale(0.7609 1.0000)" font-size="37.21" font-weight="700" fill="#1F4FAE" stroke="#F0F0F0" stroke-width="0.25" stroke-linejoin="round">Target:</text>
<text transform="translate(4157.24 588.90) scale(0.8682 1.0000)" font-size="37.21" fill="#1F4FAE" stroke="#1F4FAE" stroke-width="0.9" stroke-linejoin="round">84.00%</text>
<text transform="translate(4303.00 959.10) scale(0.6845 1.0000)" font-size="37.35" font-weight="700" fill="#000" stroke="#F0F0F0" stroke-width="0.5" stroke-linejoin="round">FY</text>
<text transform="translate(4341.85 959.10) scale(0.9401 1.0000)" font-size="37.35" fill="#000" stroke="#000" stroke-width="1.0" stroke-linejoin="round">2024</text>
<text transform="translate(4303.00 1028.20) scale(0.6845 1.0000)" font-size="37.35" font-weight="700" fill="#000" stroke="#F0F0F0" stroke-width="0.5" stroke-linejoin="round">FY</text>
<text transform="translate(4341.84 1028.20) scale(0.9470 1.0000)" font-size="37.35" fill="#000" stroke="#000" stroke-width="1.0" stroke-linejoin="round">2025</text>
<text transform="translate(4303.00 1096.80) scale(0.6845 1.0000)" font-size="37.35" font-weight="700" fill="#000" stroke="#F0F0F0" stroke-width="0.5" stroke-linejoin="round">FY</text>
<text transform="translate(4341.84 1096.80) scale(0.9470 1.0000)" font-size="37.35" fill="#000" stroke="#000" stroke-width="1.0" stroke-linejoin="round">2026</text>
<text transform="translate(1651.14 239.40) scale(0.8857 1.0000)" font-size="37.14" fill="#58595B" stroke="#58595B" stroke-width="0.7" stroke-linejoin="round">100%</text>
<text transform="translate(1668.13 335.70) scale(0.9036 1.0000)" font-size="37.14" fill="#58595B" stroke="#58595B" stroke-width="0.7" stroke-linejoin="round">96%</text>
<text transform="translate(1664.36 435.00) scale(0.8309 1.0000)" font-size="42.14" fill="#000" stroke="#000" stroke-width="1.2" stroke-linejoin="round">92%</text>
<text transform="translate(1668.66 539.70) scale(0.8963 1.0000)" font-size="37.14" fill="#58595B" stroke="#58595B" stroke-width="0.7" stroke-linejoin="round">88%</text>
<text transform="translate(1662.35 638.50) scale(0.9050 1.0000)" font-size="40.71" fill="#1F4FAE" stroke="#1F4FAE" stroke-width="1.2" stroke-linejoin="round">84%</text>
<text transform="translate(1668.66 740.90) scale(0.8963 1.0000)" font-size="37.14" fill="#58595B" stroke="#58595B" stroke-width="0.7" stroke-linejoin="round">80%</text>
<text transform="translate(1670.48 836.30) scale(0.8714 1.0000)" font-size="37.14" fill="#58595B" stroke="#58595B" stroke-width="0.7" stroke-linejoin="round">76%</text>
<text transform="translate(1670.48 933.50) scale(0.8714 1.0000)" font-size="37.14" fill="#58595B" stroke="#58595B" stroke-width="0.7" stroke-linejoin="round">72%</text>
<text transform="translate(1668.13 1029.80) scale(0.9036 1.0000)" font-size="37.14" fill="#58595B" stroke="#58595B" stroke-width="0.7" stroke-linejoin="round">68%</text>
<text transform="translate(1668.13 1133.80) scale(0.9036 1.0000)" font-size="37.14" fill="#58595B" stroke="#58595B" stroke-width="0.7" stroke-linejoin="round">64%</text>
<text transform="translate(1669.05 1218.00) scale(0.9456 1.0000)" font-size="35.00" fill="#58595B" stroke="#58595B" stroke-width="0.7" stroke-linejoin="round">60%</text>
<text transform="translate(1569.70 1284.60) scale(1.4897 1.0000)" font-size="34.88" font-weight="700" fill="#58595B">*</text>
<text transform="translate(1596.00 1284.60) scale(1.3360 1.0000)" font-size="34.88" font-weight="700" fill="#58595B">Week</text>
<text transform="translate(1741.35 1284.60) scale(1.5173 1.0000)" font-size="34.88" font-weight="700" fill="#58595B">01</text>
<text transform="translate(1911.49 1284.60) scale(1.5712 1.0000)" font-size="34.88" font-weight="700" fill="#58595B">04</text>
<text transform="translate(2069.47 1284.60) scale(1.5869 1.0000)" font-size="34.88" font-weight="700" fill="#58595B">07</text>
<text transform="translate(2222.66 1284.60) scale(1.5338 1.0000)" font-size="34.88" font-weight="700" fill="#58595B">10</text>
<text transform="translate(2385.48 1284.60) scale(1.5216 1.0000)" font-size="34.88" font-weight="700" fill="#58595B">13</text>
<text transform="translate(2544.66 1284.60) scale(1.5328 1.0000)" font-size="34.88" font-weight="700" fill="#58595B">16</text>
<text transform="translate(2695.51 1284.60) scale(1.5104 1.0000)" font-size="34.88" font-weight="700" fill="#58595B">19</text>
<text transform="translate(2851.42 1284.60) scale(1.6286 1.0000)" font-size="34.88" font-weight="700" fill="#58595B">22</text>
<text transform="translate(3014.22 1284.60) scale(1.6286 1.0000)" font-size="34.88" font-weight="700" fill="#58595B">25</text>
<text transform="translate(3163.38 1284.60) scale(1.6720 1.0000)" font-size="34.88" font-weight="700" fill="#58595B">28</text>
<text transform="translate(3325.18 1284.60) scale(1.4978 1.0000)" font-size="34.88" font-weight="700" fill="#58595B">31</text>
<text transform="translate(3483.93 1284.60) scale(1.5905 1.0000)" font-size="34.88" font-weight="700" fill="#58595B">34</text>
<text transform="translate(3641.94 1284.60) scale(1.5743 1.0000)" font-size="34.88" font-weight="700" fill="#58595B">37</text>
<text transform="translate(3799.20 1284.60) scale(1.6262 1.0000)" font-size="34.88" font-weight="700" fill="#58595B">40</text>
<text transform="translate(3960.00 1284.60) scale(1.5290 1.0000)" font-size="34.88" font-weight="700" fill="#58595B">43</text>
<text transform="translate(4116.00 1284.60) scale(1.6028 1.0000)" font-size="34.88" font-weight="700" fill="#58595B">46</text>
<text transform="translate(4276.00 1284.60) scale(1.5607 1.0000)" font-size="34.88" font-weight="700" fill="#58595B">49</text>
<text transform="translate(4425.14 1284.60) scale(1.5834 1.0000)" font-size="34.88" font-weight="700" fill="#58595B">52</text>
<text transform="translate(1546.40 1340.80) scale(1.5169 1.0000)" font-size="35.61" font-weight="700" fill="#58595B">*</text>
<text transform="translate(1572.26 1340.80) scale(1.3653 1.0000)" font-size="35.61" font-weight="700" fill="#58595B">Month</text>
<text transform="translate(1736.91 1340.80) scale(1.2518 1.0000)" font-size="35.61" font-weight="700" fill="#58595B">Oct</text>
<text transform="translate(2372.80 1340.80) scale(1.2341 1.0000)" font-size="35.61" font-weight="700" fill="#58595B">Jan</text>
<text transform="translate(3075.30 1340.80) scale(1.2611 1.0000)" font-size="35.61" font-weight="700" fill="#58595B">Apr</text>
<text transform="translate(3792.00 1340.80) scale(1.1916 1.0000)" font-size="35.61" font-weight="700" fill="#58595B">Jul</text>
<text transform="translate(4400.46 1340.80) scale(1.3336 1.0000)" font-size="35.61" font-weight="700" fill="#58595B">Sep</text>
</g>
</svg>
</body></html>
